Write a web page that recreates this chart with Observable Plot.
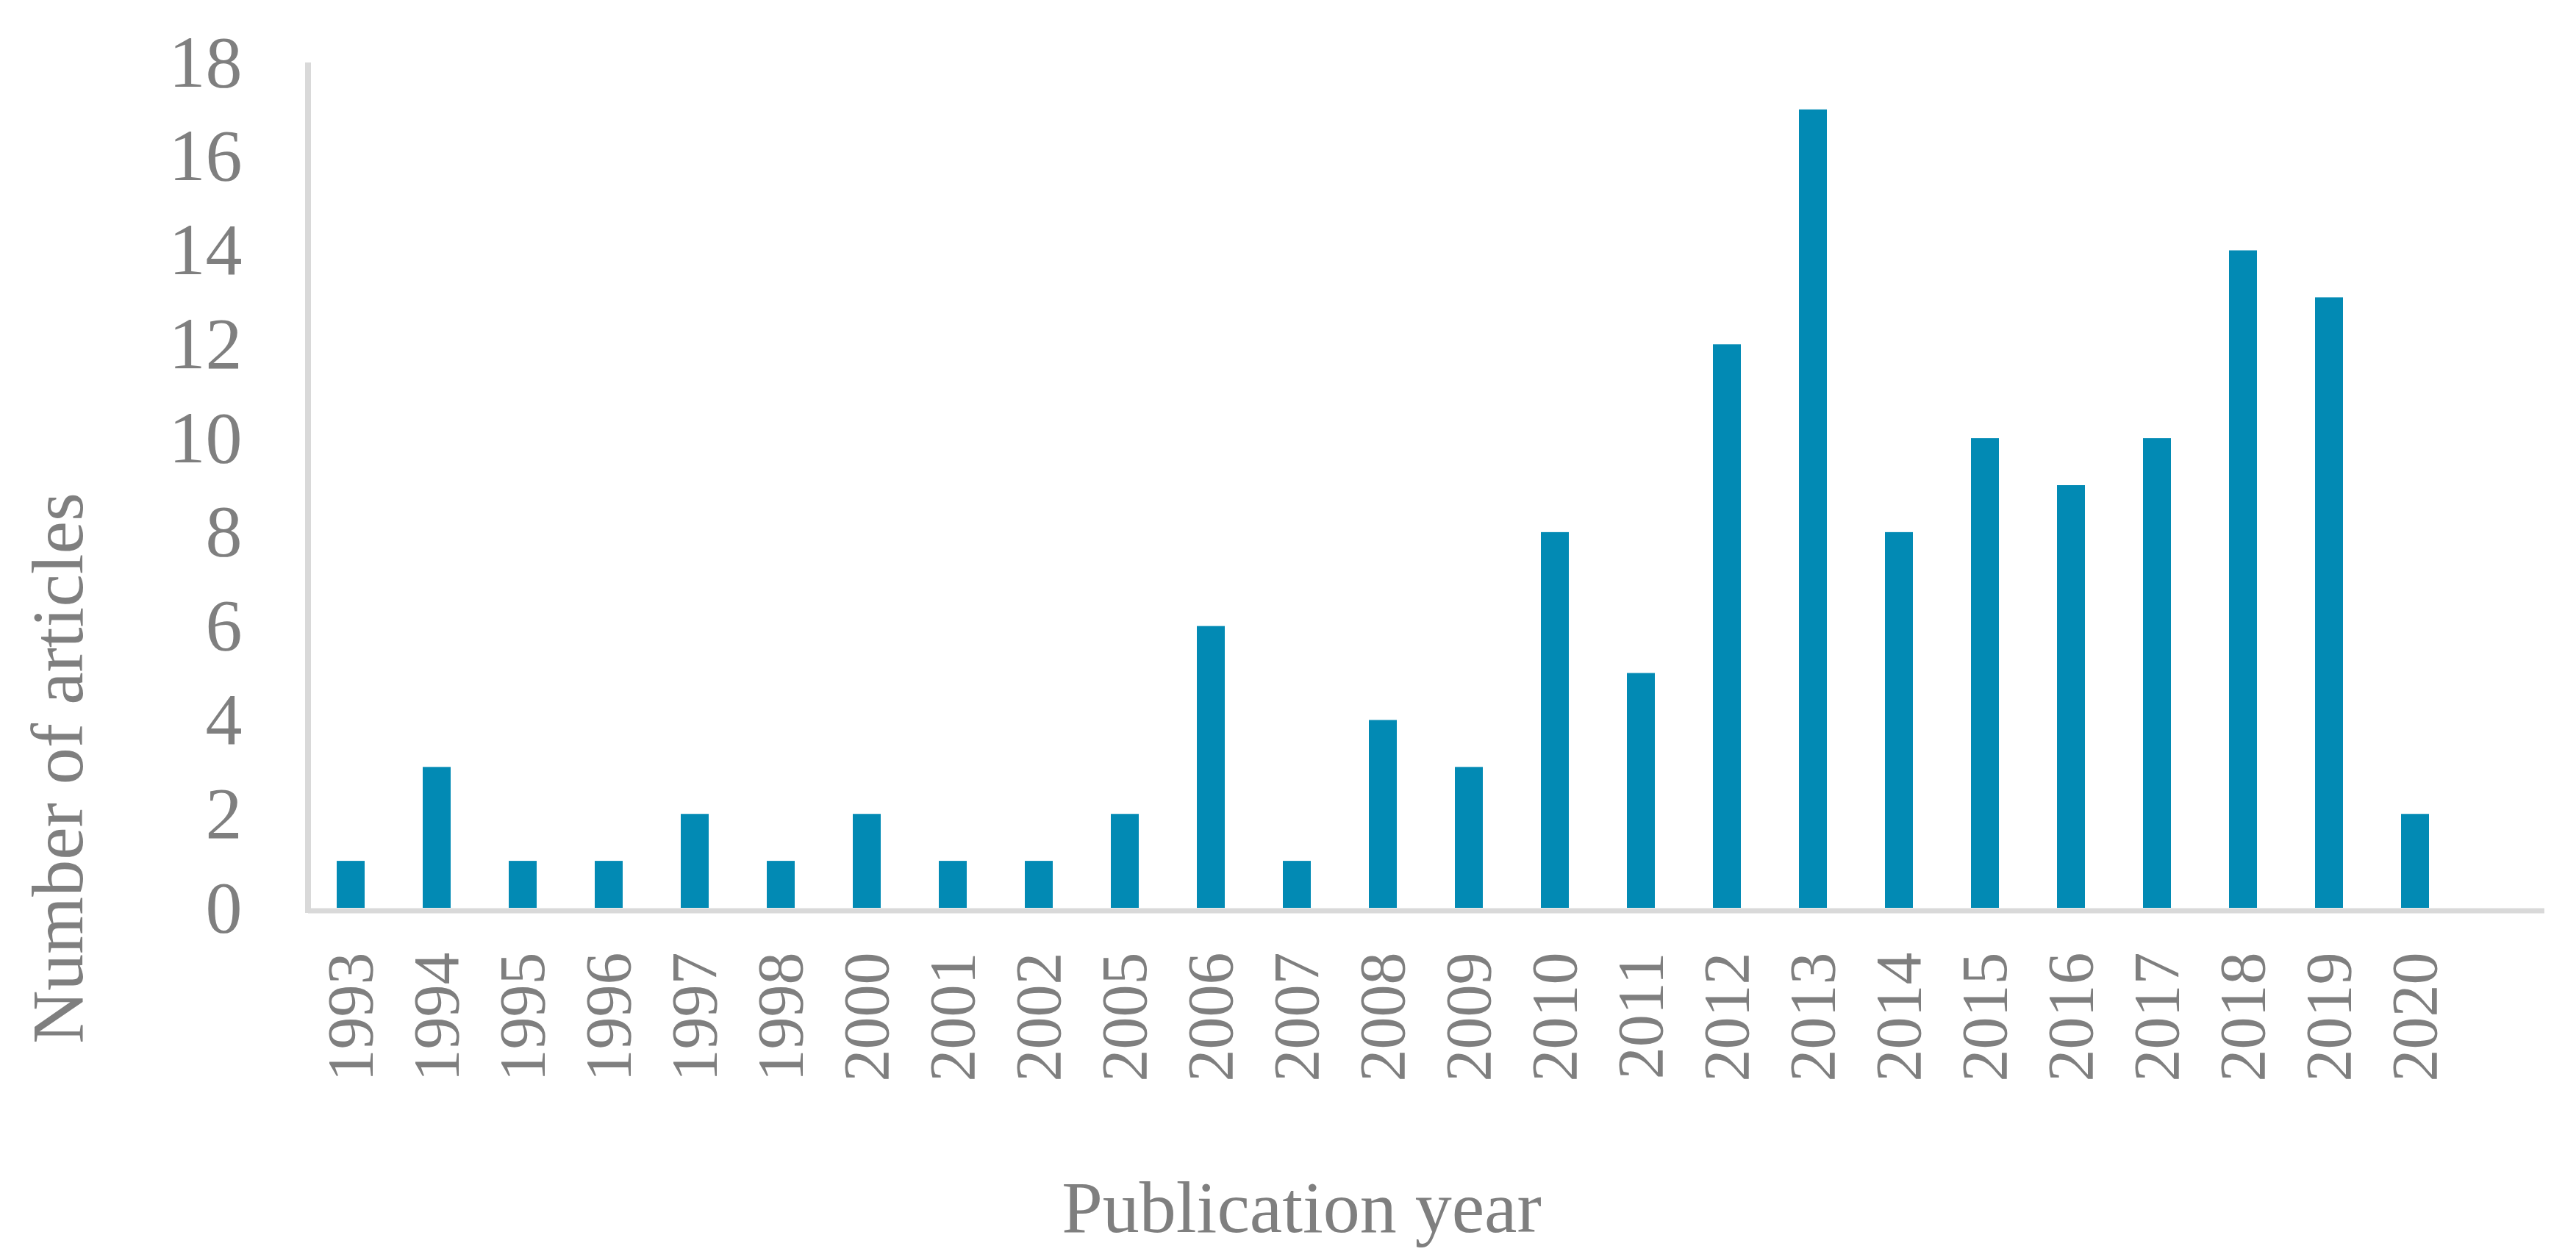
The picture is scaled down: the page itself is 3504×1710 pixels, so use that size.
<!DOCTYPE html>
<html>
<head>
<meta charset="utf-8">
<script src="https://cdn.jsdelivr.net/npm/d3@7"></script>
<script src="https://cdn.jsdelivr.net/npm/@observablehq/plot@0.6"></script>
<style>
  html, body { margin: 0; padding: 0; background: #ffffff; }
  #chart { width: 3504px; height: 1710px; }
</style>
</head>
<body>
<div id="chart"></div>
<script>
const years = ["1993","1994","1995","1996","1997","1998","2000","2001","2002","2005","2006","2007","2008","2009","2010","2011","2012","2013","2014","2015","2016","2017","2018","2019","2020"];
const counts = [1,3,1,1,2,1,2,1,1,2,6,1,4,3,8,5,12,17,8,10,9,10,14,13,2];
const yTicks = [0,2,4,6,8,10,12,14,16,18];
const xTitle = "Publication year";
const yTitle = "Number of articles";

const data = years.map((y, i) => ({year: y, count: counts[i]}));
const blank = " ";
const domainX = [...years, blank];

const W = 3504, H = 1710;
const mL = 419, mR = 43, mT = 85, mB = 475;
const axisColor = "#d9d9d9";
const textColor = "#7f7f7f";
const barColor = "#028ab4";
const fontFam = "'Liberation Serif', 'Times New Roman', serif";

const leftLine = (index, scales, values, dims) => {
  const g = d3.create("svg:g");
  g.append("line")
    .attr("x1", dims.marginLeft).attr("x2", dims.marginLeft)
    .attr("y1", dims.marginTop).attr("y2", dims.height - dims.marginBottom + 7)
    .attr("stroke", axisColor).attr("stroke-width", 8);
  return g.node();
};

const yTitleMark = (index, scales, values, dims) => {
  const g = d3.create("svg:g");
  g.append("text")
    .attr("transform", `translate(112,1045) rotate(-90)`)
    .attr("text-anchor", "middle")
    .attr("fill", textColor)
    .attr("font-size", 100)
    .attr("font-family", fontFam)
    .text(yTitle);
  return g.node();
};

const chart = Plot.plot({
  width: W,
  height: H,
  marginLeft: mL,
  marginRight: mR,
  marginTop: mT,
  marginBottom: mB,
  style: {background: "#ffffff", color: textColor, fontFamily: fontFam},
  x: {domain: domainX, paddingInner: 0.675, paddingOuter: 0.3375, label: null},
  y: {domain: [0, 18], label: null},
  marks: [
    Plot.barY(data, {x: "year", y: "count", fill: barColor}),
    Plot.ruleY([0], {stroke: axisColor, strokeWidth: 7, dy: 3.5}),
    leftLine,
    Plot.axisY({ticks: yTicks, tickSize: 0, tickPadding: 90, fontSize: 100, label: null, fill: textColor}),
    Plot.axisX({tickSize: 0, tickPadding: 60, tickRotate: -90, fontSize: 88, label: null, fill: textColor,
                tickFormat: d => d === blank ? "" : d}),
    Plot.text([xTitle], {frameAnchor: "bottom", lineAnchor: "bottom", dx: 1770 - 1940, dy: 440, fontSize: 100, fill: textColor}),
    yTitleMark
  ]
});

document.getElementById("chart").appendChild(chart);
</script>
</body>
</html>
